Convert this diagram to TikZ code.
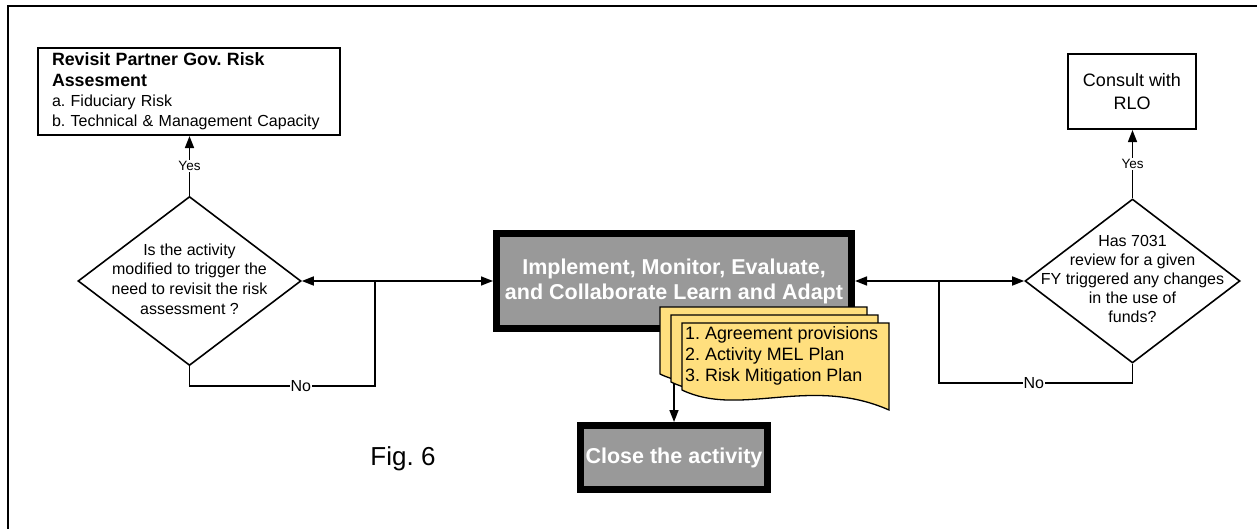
\documentclass[tikz,border=0pt]{standalone}
\usepackage{fontspec}
\setmainfont{Liberation Sans}
\usetikzlibrary{arrows.meta,shapes.geometric}
\definecolor{docyellow}{HTML}{FFDF7E}
\definecolor{boxgray}{HTML}{999999}
\frenchspacing
\begin{document}
\begin{tikzpicture}[x=1pt,y=-1pt,
  conn/.style={line width=1.6pt},
  arr/.style={conn,-{Triangle[length=12pt,width=9pt]}},
  darr/.style={conn,{Triangle[length=12pt,width=9pt]}-{Triangle[length=12pt,width=9pt]}},
  plainbox/.style={draw,line width=1.6pt,inner sep=0pt,fill=white},
  bigbox/.style={draw,line width=7pt,fill=boxgray,text=white,font=\bfseries\fontsize{21.5}{25}\selectfont,align=center,inner sep=0pt},
  dia/.style={draw,diamond,line width=1.6pt,inner sep=0pt},
  lab/.style={fill=white,inner sep=1pt,font=\fontsize{16}{18}\selectfont},
  yeslab/.style={fill=white,inner sep=1.5pt,font=\fontsize{13.5}{15}\selectfont},
  docshape/.style={draw,line width=1.3pt,fill=docyellow}
]
\useasboundingbox (0,0) rectangle (1257,529);
\draw[line width=2.5pt] (8,529) -- (8,6) -- (1257,6);

% left side
\node[plainbox, minimum width=302.5pt, minimum height=87.5pt, text width=274pt, align=left,
      font=\fontsize{16}{20.3}\selectfont] (revisit) at (189,91.5)
  {{\bfseries\fontsize{17.8}{20.3}\selectfont Revisit Partner Gov. Risk\\Assesment}\\a. Fiduciary Risk\\b. Technical \& Management Capacity};
\node[dia, minimum width=223pt, minimum height=169pt] (ldia) at (189.5,281) {};
\node[align=center, font=\fontsize{16}{19.8}\selectfont] (ltext) at (189.5,279)
  {Is the activity\\modified to trigger the\\need to revisit the risk\\assessment ?};

% right side
\node[plainbox, minimum width=128.5pt, minimum height=75.5pt, align=center,
      font=\fontsize{18}{22.5}\selectfont] (rlo) at (1132,91.5) {Consult with\\RLO};
\node[dia, minimum width=215pt, minimum height=164pt] (rdia) at (1132.5,281) {};
\node[align=center, font=\fontsize{16}{19}\selectfont] (rtext) at (1132.5,279)
  {Has 7031\\review for a given\\FY triggered any changes\\in the use of\\funds?};

% centre
\node[bigbox, minimum width=355pt, minimum height=95pt] (impl) at (674,281)
  {Implement, Monitor, Evaluate,\\and Collaborate Learn and Adapt};
\node[bigbox, minimum width=187pt, minimum height=64pt] (close) at (674,457.5) {Close the activity};
\draw[arr] (impl.south) -- (close.north);

% documents
\draw[docshape] (660,307) -- (867,307) -- (867,394) .. controls (788,359) and (718,402) .. (660,374) -- cycle;
\draw[docshape] (671,315) -- (878,315) -- (878,402) .. controls (799,367) and (729,410) .. (671,382) -- cycle;
\draw[docshape] (682,323) -- (889,323) -- (889,410) .. controls (810,375) and (740,418) .. (682,390) -- cycle;
\node[anchor=west, align=left, inner sep=0pt, font=\fontsize{17.9}{21}\selectfont] (doctext) at (685,356)
  {1. Agreement provisions\\2. Activity MEL Plan\\3. Risk Mitigation Plan};

\node[font=\fontsize{26}{30}\selectfont] (fig) at (403,459) {Fig. 6};

% connectors left
\coordinate (jL) at (375,281);
\coordinate (cL) at (375,386);
\draw[darr] (ldia.east) -- (impl.west);
\draw[conn] (jL) -- (cL) -- node[lab,pos=0.4]{No} (cL -| ldia.south) -- (ldia.south);
\draw[arr] (ldia.north) -- node[yeslab]{Yes} (ldia.north |- revisit.south);

% connectors right
\coordinate (jR) at (939,281);
\coordinate (cR) at (939,383);
\draw[darr] (impl.east) -- (rdia.west);
\draw[conn] (jR) -- (cR) -- node[lab,pos=0.49]{No} (cR -| rdia.south) -- (rdia.south);
\draw[arr] (rdia.north) -- node[yeslab]{Yes} (rdia.north |- rlo.south);
\end{tikzpicture}
\end{document}
